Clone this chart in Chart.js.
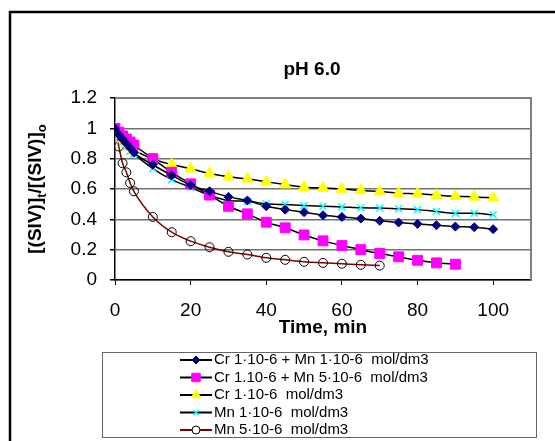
<!DOCTYPE html>
<html>
<head>
<meta charset="utf-8">
<script src="https://cdn.jsdelivr.net/npm/chart.js@4"></script>
<style>
  html, body { margin: 0; padding: 0; background: #fff; }
  canvas { display: block; }
</style>
</head>
<body>
<canvas id="chart" width="555" height="441"></canvas>
<script>
// time points, min
let times = [0, 1, 2, 3, 4, 5, 10, 15, 20, 25, 30, 35, 40, 45, 50, 55, 60, 65, 70, 75, 80, 85, 90, 95, 100];

let crMn11 = [1, 0.96, 0.93, 0.9, 0.87, 0.84, 0.76, 0.69, 0.625, 0.585, 0.548, 0.524, 0.486, 0.464, 0.447, 0.427, 0.416, 0.405, 0.39, 0.379, 0.37, 0.361, 0.352, 0.348, 0.335];
let crMn15 = [1, 0.975, 0.95, 0.93, 0.91, 0.89, 0.8, 0.71, 0.634, 0.56, 0.486, 0.436, 0.381, 0.344, 0.297, 0.258, 0.227, 0.2, 0.175, 0.153, 0.13, 0.113, 0.104];
let cr1 = [1, 0.96, 0.93, 0.9, 0.88, 0.86, 0.798, 0.761, 0.733, 0.702, 0.68, 0.667, 0.647, 0.629, 0.612, 0.607, 0.6, 0.59, 0.583, 0.572, 0.568, 0.559, 0.552, 0.548, 0.541];
let mn1 = [1, 0.95, 0.91, 0.88, 0.85, 0.83, 0.735, 0.662, 0.611, 0.559, 0.524, 0.519, 0.502, 0.497, 0.491, 0.486, 0.482, 0.476, 0.475, 0.469, 0.464, 0.452, 0.44, 0.44, 0.43];
let mn5 = [1, 0.88, 0.77, 0.71, 0.64, 0.585, 0.416, 0.315, 0.256, 0.216, 0.186, 0.168, 0.146, 0.133, 0.12, 0.113, 0.107, 0.1, 0.095];

let seriesLabels = [
    'Cr 1\u00b710-6 + Mn 1\u00b710-6  mol/dm3',
    'Cr 1.10-6 + Mn 5\u00b710-6  mol/dm3',
    'Cr 1\u00b710-6  mol/dm3',
    'Mn 1\u00b710-6  mol/dm3',
    'Mn 5\u00b710-6  mol/dm3'
];

let yTicks = [0, 0.2, 0.4, 0.6, 0.8, 1, 1.2];
let xTicks = [0, 20, 40, 60, 80, 100];

const FONT = "'Liberation Sans', Arial, sans-serif";
Chart.defaults.font.family = FONT;
Chart.defaults.color = '#000';

function points(values) {
    return values.map((v, i) => ({x: times[i], y: v}));
}

function dataset(label, values, style) {
    return Object.assign({
        label: label,
        data: points(values),
        borderColor: '#000',
        borderWidth: 1.5,
        cubicInterpolationMode: 'monotone',
        pointBorderWidth: 1,
        pointHoverRadius: 0
    }, style);
}

let datasets = [
    dataset(seriesLabels[0], crMn11, {pointStyle: 'rectRot', pointRadius: 4.5, pointBackgroundColor: '#000080', pointBorderColor: '#000080'}),
    dataset(seriesLabels[1], crMn15, {pointStyle: 'rect', pointRadius: 7, pointBackgroundColor: '#ff00ff', pointBorderColor: '#ff00ff'}),
    dataset(seriesLabels[2], cr1, {pointStyle: 'triangle', pointRadius: 6.5, pointBackgroundColor: '#ffff00', pointBorderColor: '#ffff00'}),
    dataset(seriesLabels[3], mn1, {pointStyle: 'crossRot', pointRadius: 5, pointBorderWidth: 1.5, pointBackgroundColor: '#00ffff', pointBorderColor: '#00ffff'}),
    dataset(seriesLabels[4], mn5, {borderColor: '#800000', pointStyle: 'circle', pointRadius: 4.5, pointBackgroundColor: 'rgba(0,0,0,0)', pointBorderColor: '#000'})
];

// title, axis titles, plot frame, legend box, outer frame
let decorations = {
    id: 'decorations',
    beforeDatasetsDraw(chart) {
        let ctx = chart.ctx, a = chart.chartArea;
        ctx.save();
        ctx.strokeStyle = '#808080';
        ctx.lineWidth = 2;
        ctx.beginPath();
        ctx.moveTo(a.left, a.top);
        ctx.lineTo(a.right, a.top);
        ctx.lineTo(a.right, a.bottom);
        ctx.stroke();
        ctx.restore();
    },
    afterDraw(chart) {
        let ctx = chart.ctx;
        ctx.save();
        ctx.fillStyle = '#000';

        ctx.font = 'bold 19px ' + FONT;
        ctx.textAlign = 'center';
        ctx.textBaseline = 'alphabetic';
        ctx.fillText('pH 6.0', 312, 75);
        ctx.fillText('Time, min', 323, 333);

        // y title with subscripts, rotated
        ctx.translate(41, 189);
        ctx.rotate(-Math.PI / 2);
        let parts = [['[(SIV)]', 0], ['t', 1], ['/[(SIV)]', 0], ['o', 1]];
        let total = 0;
        parts.forEach(p => {
            ctx.font = (p[1] ? 'bold 13px ' : 'bold 19px ') + FONT;
            total += ctx.measureText(p[0]).width;
        });
        let x = -total / 2;
        ctx.textAlign = 'left';
        parts.forEach(p => {
            ctx.font = (p[1] ? 'bold 13px ' : 'bold 19px ') + FONT;
            ctx.fillText(p[0], x, p[1] ? 5 : 0);
            x += ctx.measureText(p[0]).width;
        });
        ctx.setTransform(1, 0, 0, 1, 0, 0);

        // legend
        ctx.strokeStyle = '#666';
        ctx.lineWidth = 1;
        ctx.strokeRect(102.5, 352.5, 434, 85);
        ctx.font = '15px ' + FONT;
        ctx.textAlign = 'left';
        ctx.textBaseline = 'middle';
        datasets.forEach((ds, i) => {
            let y = 360 + i * 17.5;
            ctx.strokeStyle = ds.borderColor;
            ctx.lineWidth = 2;
            ctx.beginPath();
            ctx.moveTo(180, y);
            ctx.lineTo(212, y);
            ctx.stroke();
            let r = {rectRot: 4, rect: 6, triangle: 5.5, crossRot: 4, circle: 4}[ds.pointStyle];
            ctx.fillStyle = ds.pointBackgroundColor;
            ctx.strokeStyle = ds.pointBorderColor;
            ctx.lineWidth = ds.pointBorderWidth;
            if (ds.pointStyle === 'circle') {
                ctx.fillStyle = '#fff';
            }
            Chart.helpers.drawPoint(ctx, {pointStyle: ds.pointStyle, radius: r, borderWidth: ds.pointBorderWidth, rotation: 0}, 196, y);
            ctx.fillStyle = '#000';
            ctx.fillText(ds.label, 214, y);
        });

        // outer frame
        ctx.strokeStyle = '#000';
        ctx.lineWidth = 2.5;
        ctx.beginPath();
        ctx.moveTo(10, 441);
        ctx.lineTo(10, 12);
        ctx.lineTo(555, 12);
        ctx.stroke();
        ctx.restore();
    }
};

new Chart(document.getElementById('chart'), {
    type: 'line',
    data: {datasets: datasets},
    options: {
        responsive: false,
        animation: false,
        events: [],
        layout: {padding: {left: 0, top: 98, right: 24, bottom: 0}},
        plugins: {
            legend: {display: false},
            title: {display: false},
            tooltip: {enabled: false}
        },
        scales: {
            x: {
                type: 'linear',
                min: 0,
                max: 110,
                afterFit(scale) { scale.height = 161; },
                afterBuildTicks(scale) { scale.ticks = xTicks.map(v => ({value: v})); },
                ticks: {font: {size: 19}, color: '#000', padding: 14, maxRotation: 0},
                grid: {drawOnChartArea: false, drawTicks: true, tickLength: 5, color: '#000'},
                border: {color: '#000', width: 1.5}
            },
            y: {
                min: 0,
                max: 1.2,
                afterFit(scale) { scale.width = 115; },
                afterBuildTicks(scale) { scale.ticks = yTicks.map(v => ({value: v})); },
                ticks: {font: {size: 19}, color: '#000', padding: 13, callback: v => String(+v.toFixed(1))},
                grid: {color: '#707070', lineWidth: 1.5, tickLength: 5, tickColor: '#000'},
                border: {color: '#000', width: 1.5}
            }
        }
    },
    plugins: [decorations]
});
</script>
</body>
</html>
